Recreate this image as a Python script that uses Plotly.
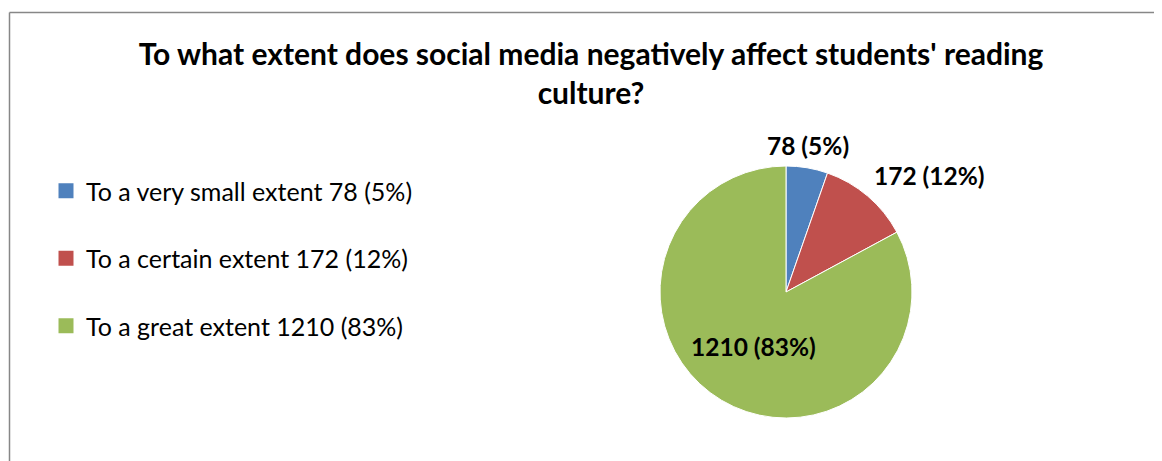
import math
import plotly.graph_objects as go

categories = ["To a very small extent", "To a certain extent", "To a great extent"]
counts = [78, 172, 1210]
percents = ["5%", "12%", "83%"]
colors = ["#4F81BD", "#C0504D", "#9BBB59"]
label_positions = ["outside", "outside", "inside"]
title_text = "To what extent does social media negatively affect students' reading<br>culture?"

W, H = 1162, 461
OFF = 8  # page body margin in the browser


def px(x):
    return (x - OFF) / W


def py(y):
    return 1 - (y - OFF) / H


cx, cy, r = 786, 292, 126

fig = go.Figure()

fig.add_trace(go.Pie(
    labels=categories,
    values=counts,
    sort=False,
    direction="clockwise",
    rotation=0,
    marker=dict(colors=colors, line=dict(color="white", width=1)),
    textinfo="none",
    showlegend=False,
    hoverinfo="label+value+percent",
    automargin=False,
    domain=dict(x=[px(cx - r), px(cx + r)], y=[py(cy + r), py(cy - r)]),
))

# data labels placed along each slice's mid-angle
total = sum(counts)
cum = 0
annotations = []
for n, p, pos in zip(counts, percents, label_positions):
    mid = (cum + n / 2) / total * 2 * math.pi
    cum += n
    s, c = math.sin(mid), math.cos(mid)
    if pos == "outside":
        d = r + 6
        xanchor = "center" if abs(s) < 0.3 else ("left" if s > 0 else "right")
        yanchor = "bottom" if c > 0 else "top"
    else:
        d = r * 0.5
        xanchor, yanchor = "center", "middle"
    annotations.append(dict(
        x=px(cx + d * s), y=py(cy - d * c), xref="paper", yref="paper", showarrow=False,
        text=f"<b>{n} ({p})</b>", xanchor=xanchor, yanchor=yanchor,
        font=dict(family="Lato", size=24.5, color="black"),
    ))

for i, (c, n, p, col) in enumerate(zip(categories, counts, percents, colors)):
    fig.add_trace(go.Scatter(
        x=[None], y=[None], mode="markers",
        marker=dict(symbol="square", size=15, color=col),
        name=f"{c} {n} ({p})", legendgroup=f"g{i}",
    ))

fig.update_layout(
    width=W, height=H,
    margin=dict(l=0, r=0, t=0, b=0),
    paper_bgcolor="white", plot_bgcolor="white",
    xaxis=dict(visible=False), yaxis=dict(visible=False),
    title=dict(text=title_text, x=px(591), xanchor="center", y=py(57 + OFF), yanchor="middle",
               font=dict(family="Lato", size=30, color="black", weight="bold")),
    legend=dict(x=px(46), xanchor="left", y=py(168), yanchor="top",
                font=dict(family="Lato", size=25, color="black"),
                tracegroupgap=32, bgcolor="rgba(0,0,0,0)"),
    annotations=annotations,
    shapes=[
        dict(type="line", xref="paper", yref="paper", x0=px(9.5), x1=px(9.5), y0=py(480), y1=py(12.5),
             line=dict(color="#878787", width=1.5)),
        dict(type="line", xref="paper", yref="paper", x0=px(9.5), x1=1, y0=py(12.5), y1=py(12.5),
             line=dict(color="#878787", width=1.5)),
    ],
)

fig.write_html("out.html")
